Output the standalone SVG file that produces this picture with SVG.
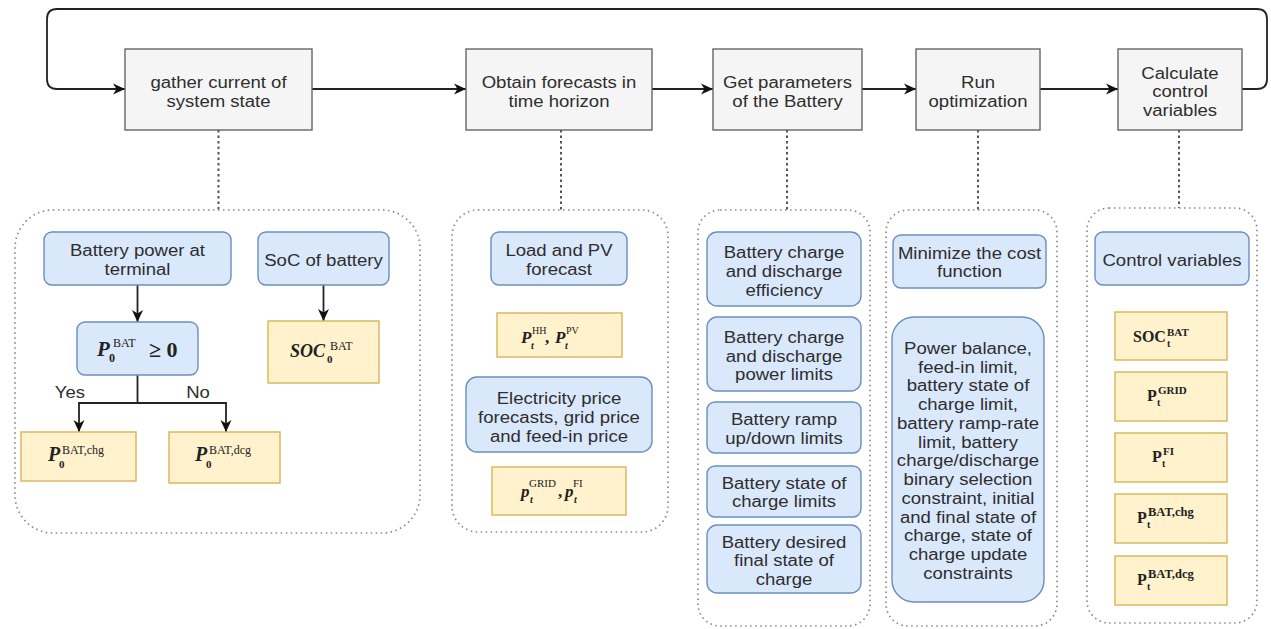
<svg xmlns="http://www.w3.org/2000/svg" width="1271" height="629" viewBox="0 0 1271 629">
<defs>
<marker id="arr" markerWidth="13" markerHeight="12" refX="12" refY="6" orient="auto" markerUnits="userSpaceOnUse"><path d="M0,0.5 L12,6 L0,11.5 L3.5,6 z" fill="#111"/></marker>
<style>
.top{fill:#f5f5f5;stroke:#666;stroke-width:1.4}
.blue{fill:#dae8fc;stroke:#6c8ebf;stroke-width:1.4}
.yel{fill:#fff2cc;stroke:#d6b656;stroke-width:1.4}
.grp{fill:none;stroke:#8a8a8a;stroke-width:1.7;stroke-dasharray:1.5 3.5}
.lbl{font-family:"Liberation Sans",Arial,sans-serif;font-size:16px;fill:#2e2e2e;text-anchor:middle}
.m{font-family:"Liberation Serif","Times New Roman",serif;fill:#222;font-weight:bold}
.i{font-style:italic}
.s{font-weight:normal}
.edge{fill:none;stroke:#222;stroke-width:1.8}
.dot{fill:none;stroke:#555;stroke-width:2;stroke-dasharray:2.5 3}
</style>
</defs>
<rect width="1271" height="629" fill="#fff"/>

<g id="connectors">
<path class="edge" d="M1242,89 H1257 Q1267,89 1267,79 V19 Q1267,9 1257,9 H57 Q47,9 47,19 V79 Q47,89 57,89 H125" marker-end="url(#arr)"/>
<path class="edge" d="M312,89 H466" marker-end="url(#arr)"/>
<path class="edge" d="M652,89 H713" marker-end="url(#arr)"/>
<path class="edge" d="M862,89 H916" marker-end="url(#arr)"/>
<path class="edge" d="M1040,89 H1118" marker-end="url(#arr)"/>
<path class="dot" d="M218.5,130 V210"/>
<path class="dot" d="M561,130 V210"/>
<path class="dot" d="M787,130 V210"/>
<path class="dot" d="M978,130 V210"/>
<path class="dot" d="M1179,130 V208"/>
<path class="edge" d="M137.5,285 V322" marker-end="url(#arr)"/>
<path class="edge" d="M323.5,285 V321" marker-end="url(#arr)"/>
<path class="edge" d="M137.5,375 V403 H79 V432" marker-end="url(#arr)"/>
<path class="edge" d="M137.5,403 H226 V432" marker-end="url(#arr)"/>
<text class="lbl" transform="translate(70,0) scale(1.16,1)" x="0" y="398">Yes</text>
<text class="lbl" transform="translate(198,0) scale(1.16,1)" x="0" y="398">No</text>
</g>

<g id="step1">
<rect class="top" x="125" y="49" width="187" height="81"/>
<text class="lbl" transform="translate(218.5,0) scale(1.16,1)"><tspan x="0" y="88">gather current of</tspan><tspan x="0" y="107">system state</tspan></text>
</g>
<g id="step2">
<rect class="top" x="466" y="49" width="186" height="81"/>
<text class="lbl" transform="translate(559,0) scale(1.16,1)"><tspan x="0" y="88">Obtain forecasts in</tspan><tspan x="0" y="107">time horizon</tspan></text>
</g>
<g id="step3">
<rect class="top" x="713" y="49" width="149" height="81"/>
<text class="lbl" transform="translate(787.5,0) scale(1.16,1)"><tspan x="0" y="88">Get parameters</tspan><tspan x="0" y="107">of the Battery</tspan></text>
</g>
<g id="step4">
<rect class="top" x="916" y="49" width="124" height="81"/>
<text class="lbl" transform="translate(978,0) scale(1.16,1)"><tspan x="0" y="88">Run</tspan><tspan x="0" y="107">optimization</tspan></text>
</g>
<g id="step5">
<rect class="top" x="1118" y="49" width="124" height="81"/>
<text class="lbl" transform="translate(1180,0) scale(1.16,1)"><tspan x="0" y="79">Calculate</tspan><tspan x="0" y="97">control</tspan><tspan x="0" y="116">variables</tspan></text>
</g>

<g id="group1">
<rect class="grp" x="15" y="210" width="405" height="323" rx="38"/>
<g id="bat-power">
<rect class="blue" x="44" y="232" width="187" height="53" rx="8"/>
<text class="lbl" transform="translate(137.5,0) scale(1.16,1)"><tspan x="0" y="256">Battery power at</tspan><tspan x="0" y="275">terminal</tspan></text>
</g>
<g id="soc-battery">
<rect class="blue" x="258" y="232" width="131" height="53" rx="8"/>
<text class="lbl" transform="translate(323.5,0) scale(1.16,1)" x="0" y="266">SoC of battery</text>
</g>
<g id="cond">
<rect class="blue" x="77" y="322" width="121" height="53" rx="8"/>
<text class="m i" x="97" y="356" font-size="21">P</text>
<text class="m" x="109" y="362" font-size="12">0</text>
<text class="m s" x="113" y="347" font-size="12">BAT</text>
<text class="m" x="149" y="357" font-size="22">≥ 0</text>
</g>
<g id="soc0">
<rect class="yel" x="268" y="321" width="111" height="62"/>
<text class="m i" x="290" y="357" font-size="18">SOC</text>
<text class="m" x="327" y="363" font-size="11">0</text>
<text class="m s" x="330" y="350" font-size="12">BAT</text>
</g>
<g id="p-chg">
<rect class="yel" x="21" y="432" width="115" height="49"/>
<text class="m i" x="48" y="461" font-size="20">P</text>
<text class="m" x="59" y="468" font-size="11">0</text>
<text class="m s" x="62" y="454" font-size="12">BAT,chg</text>
</g>
<g id="p-dcg">
<rect class="yel" x="169" y="432" width="111" height="51"/>
<text class="m i" x="195" y="461" font-size="20">P</text>
<text class="m" x="206" y="468" font-size="11">0</text>
<text class="m s" x="209" y="454" font-size="12">BAT,dcg</text>
</g>
</g>

<g id="group2">
<rect class="grp" x="452" y="210" width="216" height="322" rx="26"/>
<g id="load-pv">
<rect class="blue" x="491" y="232" width="136" height="53" rx="8"/>
<text class="lbl" transform="translate(559,0) scale(1.16,1)"><tspan x="0" y="256">Load and PV</tspan><tspan x="0" y="275">forecast</tspan></text>
</g>
<g id="p-hh-pv">
<rect class="yel" x="497" y="313" width="125" height="44"/>
<text class="m i" x="521" y="343" font-size="17">P</text>
<text class="m i" x="531" y="349" font-size="10">t</text>
<text class="m s" x="532" y="334" font-size="10">HH</text>
<text class="m" x="545" y="343" font-size="17">,</text>
<text class="m i" x="555" y="343" font-size="17">P</text>
<text class="m i" x="565" y="349" font-size="10">t</text>
<text class="m s" x="566" y="334" font-size="10">PV</text>
</g>
<g id="price">
<rect class="blue" x="466" y="377" width="186" height="75" rx="11"/>
<text class="lbl" transform="translate(559,0) scale(1.16,1)"><tspan x="0" y="404">Electricity price</tspan><tspan x="0" y="423">forecasts, grid price</tspan><tspan x="0" y="442">and feed-in price</tspan></text>
</g>
<g id="p-grid-fi">
<rect class="yel" x="492" y="467" width="134" height="48"/>
<text class="m i" x="521" y="497" font-size="17">p</text>
<text class="m i" x="530" y="503" font-size="10">t</text>
<text class="m s" x="529" y="487" font-size="11">GRID</text>
<text class="m" x="558" y="497" font-size="17">,</text>
<text class="m i" x="565" y="497" font-size="17">p</text>
<text class="m i" x="574" y="503" font-size="10">t</text>
<text class="m s" x="573" y="487" font-size="11">FI</text>
</g>
</g>

<g id="group3">
<rect class="grp" x="698" y="210" width="172" height="416" rx="22"/>
<g id="eff">
<rect class="blue" x="707" y="232" width="154" height="74" rx="10"/>
<text class="lbl" transform="translate(784,0) scale(1.16,1)"><tspan x="0" y="258">Battery charge</tspan><tspan x="0" y="277">and discharge</tspan><tspan x="0" y="296">efficiency</tspan></text>
</g>
<g id="plim">
<rect class="blue" x="707" y="317" width="154" height="74" rx="10"/>
<text class="lbl" transform="translate(784,0) scale(1.16,1)"><tspan x="0" y="343">Battery charge</tspan><tspan x="0" y="362">and discharge</tspan><tspan x="0" y="380">power limits</tspan></text>
</g>
<g id="ramp">
<rect class="blue" x="707" y="402" width="154" height="51" rx="8"/>
<text class="lbl" transform="translate(784,0) scale(1.16,1)"><tspan x="0" y="425">Battery ramp</tspan><tspan x="0" y="444">up/down limits</tspan></text>
</g>
<g id="soclim">
<rect class="blue" x="707" y="466" width="154" height="51" rx="8"/>
<text class="lbl" transform="translate(784,0) scale(1.16,1)"><tspan x="0" y="489">Battery state of</tspan><tspan x="0" y="507">charge limits</tspan></text>
</g>
<g id="final">
<rect class="blue" x="707" y="525" width="154" height="68" rx="10"/>
<text class="lbl" transform="translate(784,0) scale(1.16,1)"><tspan x="0" y="548">Battery desired</tspan><tspan x="0" y="566">final state of</tspan><tspan x="0" y="585">charge</tspan></text>
</g>
</g>

<g id="group4">
<rect class="grp" x="886" y="210" width="171" height="416" rx="22"/>
<g id="minimize">
<rect class="blue" x="893" y="235" width="153" height="53" rx="8"/>
<text class="lbl" transform="translate(969.5,0) scale(1.16,1)"><tspan x="0" y="259">Minimize the cost</tspan><tspan x="0" y="277">function</tspan></text>
</g>
<g id="constraints">
<rect class="blue" x="892" y="317" width="152" height="285" rx="22"/>
<text class="lbl" transform="translate(968,0) scale(1.16,1)"><tspan x="0" y="354">Power balance,</tspan><tspan x="0" y="372.75">feed-in limit,</tspan><tspan x="0" y="391.5">battery state of</tspan><tspan x="0" y="410.25">charge limit,</tspan><tspan x="0" y="429">battery ramp-rate</tspan><tspan x="0" y="447.75">limit, battery</tspan><tspan x="0" y="466.5">charge/discharge</tspan><tspan x="0" y="485.25">binary selection</tspan><tspan x="0" y="504">constraint, initial</tspan><tspan x="0" y="522.75">and final state of</tspan><tspan x="0" y="541.5">charge, state of</tspan><tspan x="0" y="560.25">charge update</tspan><tspan x="0" y="579">constraints</tspan></text>
</g>
</g>

<g id="group5">
<rect class="grp" x="1087" y="208" width="170" height="415" rx="22"/>
<g id="ctrl">
<rect class="blue" x="1095" y="232" width="154" height="53" rx="8"/>
<text class="lbl" transform="translate(1172,0) scale(1.16,1)" x="0" y="266">Control variables</text>
</g>
<g id="soct">
<rect class="yel" x="1115" y="312" width="112" height="48"/>
<text class="m" x="1133" y="342" font-size="16">SOC</text>
<text class="m" x="1167" y="347" font-size="10">t</text>
<text class="m" x="1167" y="336" font-size="11">BAT</text>
</g>
<g id="pgrid">
<rect class="yel" x="1115" y="372" width="112" height="49"/>
<text class="m" x="1147" y="401" font-size="16">P</text>
<text class="m" x="1157" y="406" font-size="10">t</text>
<text class="m" x="1158" y="394" font-size="11">GRID</text>
</g>
<g id="pfi">
<rect class="yel" x="1115" y="433" width="112" height="49"/>
<text class="m" x="1152" y="462" font-size="16">P</text>
<text class="m" x="1162" y="467" font-size="10">t</text>
<text class="m" x="1163" y="455" font-size="11">FI</text>
</g>
<g id="pchg">
<rect class="yel" x="1115" y="494" width="112" height="49"/>
<text class="m" x="1137" y="523" font-size="16">P</text>
<text class="m" x="1147" y="528" font-size="10">t</text>
<text class="m" x="1148" y="516" font-size="12.5">BAT,chg</text>
</g>
<g id="pdcg">
<rect class="yel" x="1115" y="556" width="112" height="49"/>
<text class="m" x="1137" y="585" font-size="16">P</text>
<text class="m" x="1147" y="590" font-size="10">t</text>
<text class="m" x="1148" y="578" font-size="12.5">BAT,dcg</text>
</g>
</g>
</svg>
